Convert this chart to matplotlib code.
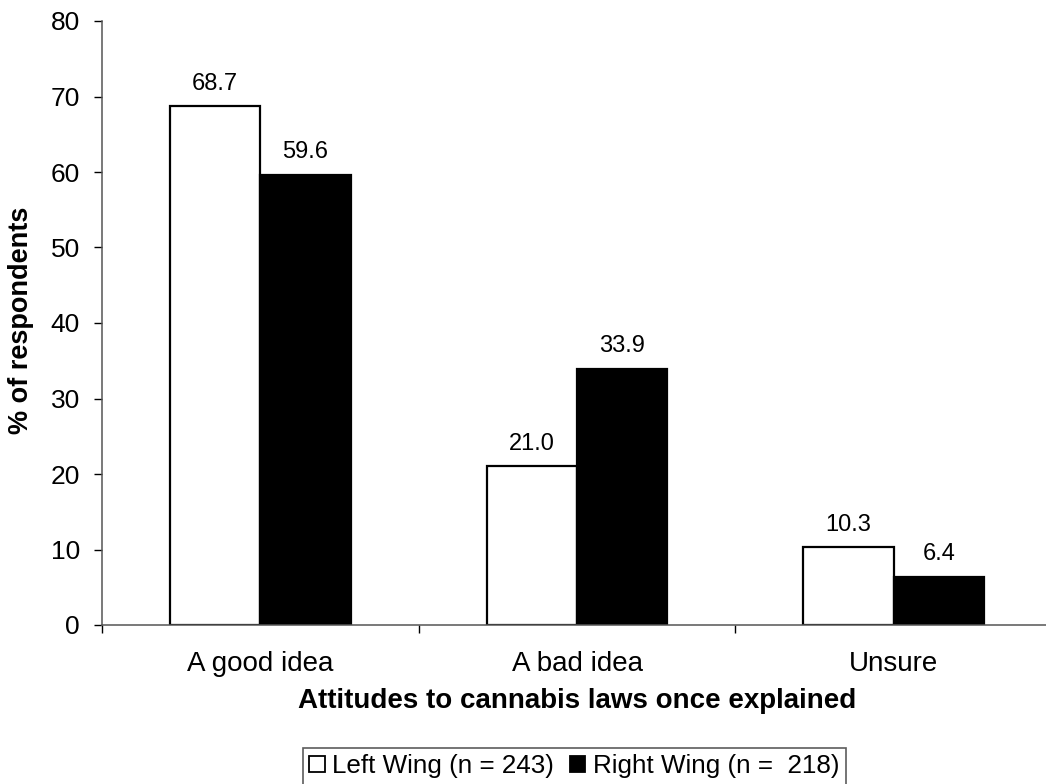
import matplotlib
matplotlib.use("Agg")
import matplotlib.pyplot as plt
import numpy as np
from matplotlib.patches import Patch

plt.rcParams['font.family'] = ['Liberation Sans', 'DejaVu Sans']

categories = ["A good idea", "A bad idea", "Unsure"]
left_wing = [68.7, 21.0, 10.3]
right_wing = [59.6, 33.9, 6.4]
series_names = ["Left Wing (n = 243)", "Right Wing (n =  218)"]
y_ticks = [0, 10, 20, 30, 40, 50, 60, 70, 80]

W, H = 1046, 784
fig = plt.figure(figsize=(W / 100, H / 100), dpi=100)
ax = fig.add_axes([102 / W, 1 - 625 / H, 950 / W, 604 / H])

x = np.arange(len(categories))
w = 1 / 3.5
b1 = ax.bar(x - w / 2, left_wing, w, color="white", edgecolor="black", linewidth=1.6)
b2 = ax.bar(x + w / 2, right_wing, w, color="black", edgecolor="black", linewidth=1.6)

for bars, vals in ((b1, left_wing), (b2, right_wing)):
    for bar, v in zip(bars, vals):
        ax.annotate(f"{v:.1f}", (bar.get_x() + bar.get_width() / 2, v),
                    xytext=(0, 12), textcoords="offset points",
                    ha="center", va="baseline", fontsize=17)

ax.set_xlim(-0.5, len(categories) - 0.5)
ax.set_ylim(0, 80)
ax.set_yticks(y_ticks)
ax.tick_params(axis="y", direction="out", length=6, width=1, labelsize=19, pad=10)

# Category boundaries carry the tick marks; labels sit at the centres
ax.set_xticks(np.arange(len(categories) + 1) - 0.5)
ax.set_xticklabels([])
ax.tick_params(axis="x", which="major", direction="out", length=6, width=1)
ax.set_xticks(x, minor=True)
ax.set_xticklabels(categories, minor=True, fontsize=20)
ax.tick_params(axis="x", which="minor", length=0, pad=19)

for s in ("top", "right"):
    ax.spines[s].set_visible(False)
for s in ("left", "bottom"):
    ax.spines[s].set_color("#555555")
    ax.spines[s].set_linewidth(1.1)

ax.set_xlabel("Attitudes to cannabis laws once explained", fontsize=20,
              fontweight="bold", labelpad=8)
fig.text(21 / W, 1 - 320 / H, "% of respondents", rotation=90, fontsize=19.5,
         fontweight="bold", ha="center", va="center")

handles = [Patch(facecolor="white", edgecolor="black", linewidth=1.3),
           Patch(facecolor="black", edgecolor="black", linewidth=1.3)]
leg = fig.legend(handles, series_names, loc="upper left",
                 bbox_to_anchor=(303 / W, 1 - 748 / H),
                 ncol=2, fontsize=18.7, frameon=True, fancybox=False,
                 handlelength=0.58, handleheight=0.58, handletextpad=0.3,
                 columnspacing=0.6, borderpad=0.25, borderaxespad=0)
leg.get_frame().set_edgecolor("#333333")
leg.get_frame().set_linewidth(1.2)

fig.savefig("out.png", dpi=100)
